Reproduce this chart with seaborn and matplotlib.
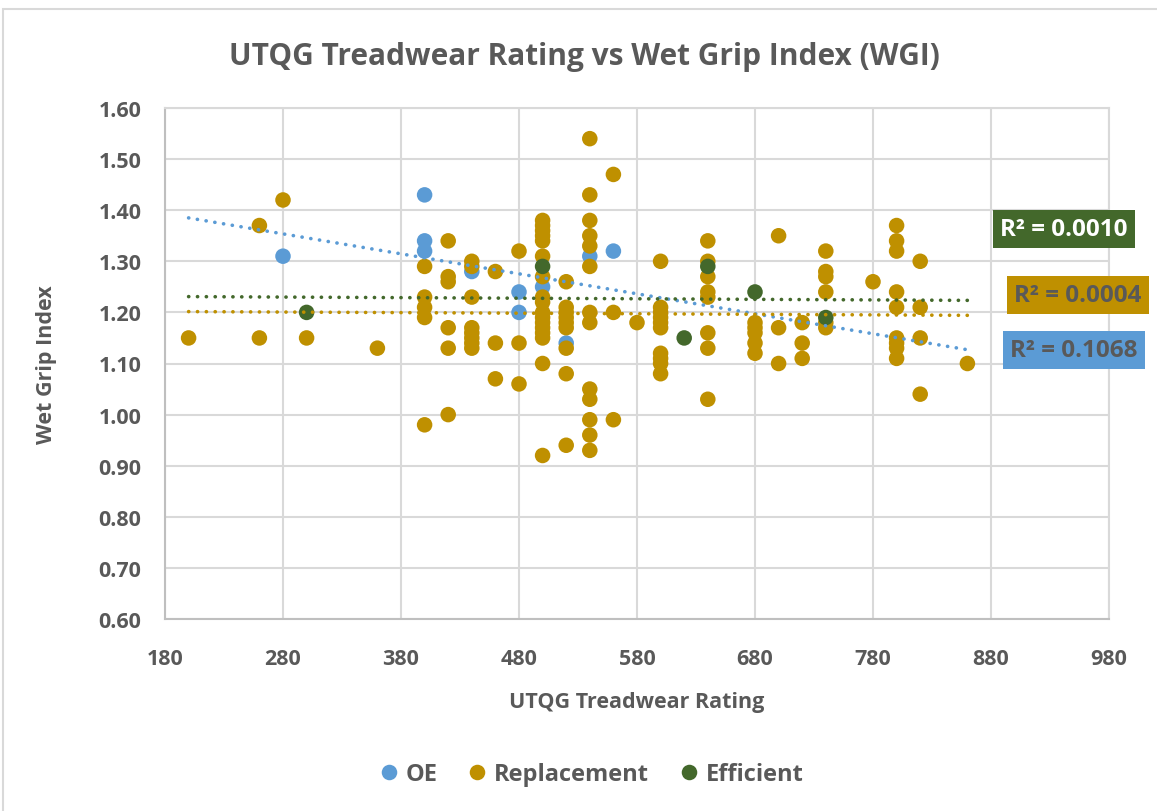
import numpy as np
import pandas as pd
import matplotlib.pyplot as plt
import seaborn as sns
from matplotlib.patches import Rectangle
from matplotlib.ticker import StrMethodFormatter

# data
oe_rating = [280, 400, 400, 400, 440, 480, 480, 500, 520, 540, 560]
oe_wgi = [1.31, 1.43, 1.34, 1.32, 1.28, 1.24, 1.20, 1.25, 1.14, 1.31, 1.32]

rep_rating = ([200] + [260] * 2 + [280] + [300] + [360] + [400] * 5 + [420] * 6 + [440] * 8
              + [460] * 3 + [480] * 3 + [500] * 17 + [520] * 9 + [540] * 13 + [560] * 3
              + [580] + [600] * 10 + [640] * 8 + [680] * 5 + [700] * 3 + [720] * 3
              + [740] * 6 + [780] + [800] * 9 + [820] * 4 + [860])
rep_wgi = [1.15,
           1.37, 1.15,
           1.42,
           1.15,
           1.13,
           1.29, 1.23, 1.21, 1.19, 0.98,
           1.34, 1.27, 1.26, 1.17, 1.13, 1.00,
           1.30, 1.29, 1.23, 1.17, 1.16, 1.15, 1.14, 1.13,
           1.28, 1.14, 1.07,
           1.32, 1.14, 1.06,
           1.38, 1.37, 1.36, 1.35, 1.34, 1.31, 1.27, 1.23, 1.22, 1.20, 1.19, 1.18, 1.17, 1.16, 1.15, 1.10, 0.92,
           1.26, 1.21, 1.20, 1.19, 1.18, 1.17, 1.13, 1.08, 0.94,
           1.54, 1.43, 1.38, 1.35, 1.33, 1.29, 1.20, 1.18, 1.05, 1.03, 0.99, 0.96, 0.93,
           1.47, 1.20, 0.99,
           1.18,
           1.30, 1.21, 1.20, 1.19, 1.18, 1.17, 1.12, 1.11, 1.10, 1.08,
           1.34, 1.30, 1.27, 1.24, 1.23, 1.16, 1.13, 1.03,
           1.18, 1.17, 1.16, 1.14, 1.12,
           1.35, 1.17, 1.10,
           1.18, 1.14, 1.11,
           1.32, 1.28, 1.27, 1.24, 1.18, 1.17,
           1.26,
           1.37, 1.34, 1.32, 1.24, 1.21, 1.15, 1.14, 1.13, 1.11,
           1.30, 1.21, 1.15, 1.04,
           1.10]

eff_rating = [300, 500, 620, 640, 680, 740]
eff_wgi = [1.20, 1.29, 1.15, 1.29, 1.24, 1.19]

series = ['OE', 'Replacement', 'Efficient']
colors = {'OE': '#5B9BD5', 'Replacement': '#BF9000', 'Efficient': '#43682B'}
r2_labels = {'OE': 'R² = 0.1068', 'Replacement': 'R² = 0.0004', 'Efficient': 'R² = 0.0010'}

df = pd.concat([
    pd.DataFrame({'rating': oe_rating, 'wgi': oe_wgi, 'type': 'OE'}),
    pd.DataFrame({'rating': rep_rating, 'wgi': rep_wgi, 'type': 'Replacement'}),
    pd.DataFrame({'rating': eff_rating, 'wgi': eff_wgi, 'type': 'Efficient'}),
], ignore_index=True)

sns.set_theme(style='white')
plt.rcParams['font.family'] = ['Open Sans', 'DejaVu Sans']
grey = '#595959'

fig = plt.figure(figsize=(11.57, 8.12), dpi=100)
ax = fig.add_axes([165 / 1157, 1 - 620 / 812, (1109 - 165) / 1157, (620 - 109) / 812])

sns.scatterplot(data=df, x='rating', y='wgi', hue='type', hue_order=series,
                palette=colors, s=125, linewidth=0, alpha=1, ax=ax, zorder=3)

# linear trendlines over the full rating range
xs = np.array([df['rating'].min(), df['rating'].max()])
for name in series:
    sub = df[df['type'] == name]
    k, b = np.polyfit(sub['rating'], sub['wgi'], 1)
    ax.plot(xs, k * xs + b, color=colors[name], lw=2.6, linestyle=(0, (0.05, 2.4)),
            dash_capstyle='round', zorder=4)

ax.set_xlim(180, 980)
ax.set_ylim(0.6, 1.6)
ax.set_xticks(range(180, 981, 100))
ax.set_yticks(np.round(np.arange(0.6, 1.601, 0.1), 2))
ax.yaxis.set_major_formatter(StrMethodFormatter('{x:.2f}'))
ax.grid(True, color='#D9D9D9', lw=1.5)
ax.set_axisbelow(True)
for side in ['top', 'right']:
    ax.spines[side].set_color('#D9D9D9')
for side in ['left', 'bottom']:
    ax.spines[side].set_color('#BFBFBF')
for sp in ax.spines.values():
    sp.set_linewidth(1.5)
ax.tick_params(axis='both', length=0, labelsize=15.5, labelcolor=grey)
ax.tick_params(axis='y', pad=17)
ax.tick_params(axis='x', pad=21)
for lab in ax.get_xticklabels() + ax.get_yticklabels():
    lab.set_fontweight('bold')

ax.set_xlabel('UTQG Treadwear Rating', fontsize=15.5, fontweight='bold', color=grey, labelpad=16)
ax.set_ylabel('Wet Grip Index', fontsize=15.5, fontweight='bold', color=grey, labelpad=30)

fig.text(0.5055, 1 - 57 / 812, 'UTQG Treadwear Rating vs Wet Grip Index (WGI)',
         ha='center', va='center', fontsize=21.5, fontweight='bold', color=grey)

sns.move_legend(ax, 'center', bbox_to_anchor=(0.508, 1 - 775 / 812), bbox_transform=fig.transFigure,
                ncol=3, frameon=False, title=None, fontsize=17, handletextpad=0.0,
                handlelength=1.4, columnspacing=1.0, markerscale=1.0)
for t in ax.get_legend().get_texts():
    t.set_color(grey)
    t.set_fontweight('bold')

# R² label boxes
boxes = {'Efficient': (1064, 230, 'white'), 'Replacement': (1078, 296, grey), 'OE': (1074, 351, grey)}
for name, (px, py, tc) in boxes.items():
    fig.text(px / 1157, 1 - py / 812, r2_labels[name], ha='center', va='center',
             fontsize=17.5, fontweight='bold', color=tc,
             bbox=dict(boxstyle='square,pad=0.3', fc=colors[name], ec='none'))

fig.patches.append(Rectangle((3 / 1157, -0.1), 2, 0.1 + 1 - 10 / 812, transform=fig.transFigure,
                             fill=False, edgecolor='#D9D9D9', lw=1.5))

fig.savefig('out.png', dpi=100)
